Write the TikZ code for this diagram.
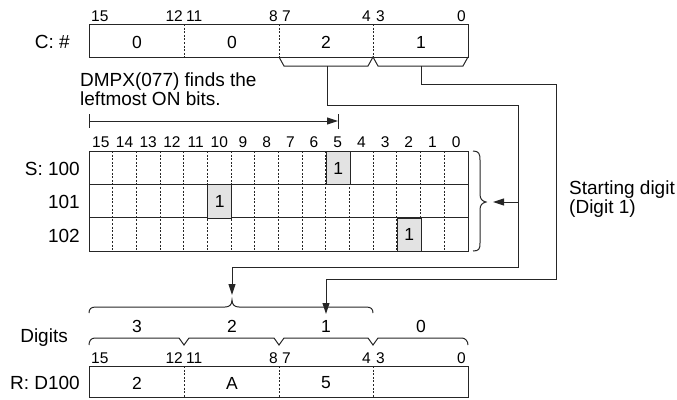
\documentclass[tikz,border=0pt]{standalone}
\usepackage{fontspec}
\setmainfont{Liberation Sans}
\usetikzlibrary{arrows.meta,calc}
\begin{document}
\begin{tikzpicture}[x=1pt,y=-1pt,
  ln/.style={line width=1pt, black!85},
  divline/.style={line width=1pt, black!85, dash pattern=on 2pt off 1.6pt},
  lbl/.style={font=\fontsize{19}{21}\selectfont, inner sep=0pt},
  val/.style={font=\fontsize{17.5}{19}\selectfont, inner sep=0pt},
  bitno/.style={font=\fontsize{15.5}{17}\selectfont, inner sep=0pt},
  arr/.style={ln, -{Triangle[length=11pt,width=7pt]}},
  reg/.style={draw, line width=1pt, black!85, anchor=north west, inner sep=0pt, minimum width=379pt},
  onbit/.style={draw, line width=1pt, black!85, fill=black!11, anchor=north west, inner sep=0pt, minimum width=23.69pt, minimum height=33.3pt, font=\fontsize{17.5}{19}\selectfont, text=black}
]
\useasboundingbox (0,0) rectangle (677,399);

% ---------- C register ----------
\node[reg, minimum height=33pt] (Cbox) at (89,24) {};
\foreach \x in {184,279,373} \draw[divline] (\x,24) -- (\x,57);
\node[lbl, anchor=east] (Clbl) at (70,42) {C: \#};
\node[val] (C3) at (137,42) {0};
\node[val] (C2) at (232,42) {0};
\node[val] (C1) at (326,42) {2};
\node[val] (C0) at (421,42) {1};
\node[bitno, anchor=west] (cb15) at (91,16) {15};
\node[bitno, anchor=east] (cb12) at (183,16) {12};
\node[bitno, anchor=west] (cb11) at (186,16) {11};
\node[bitno, anchor=east] (cb8) at (278,16) {8};
\node[bitno, anchor=west] (cb7) at (282,16) {7};
\node[bitno, anchor=east] (cb4) at (371,16) {4};
\node[bitno, anchor=west] (cb3) at (376,16) {3};
\node[bitno, anchor=east] (cb0) at (466,16) {0};
% brackets under digits 1 and 0
\draw[ln] (279,57) -- (284,66) -- (368,66) -- (373,57) -- (378,66) -- (463,66) -- (468,57);
\coordinate (d1out) at (327,66);
\coordinate (d0out) at (421,66);

% ---------- explanation ----------
\node[lbl, anchor=base west] (t1) at (80,86) {DMPX(077) finds the};
\node[lbl, anchor=base west] (t2) at (80,105) {leftmost ON bits.};
\coordinate (scanL) at (89,121);
\coordinate (scanR) at (338,121);
\draw[ln] (89,114) -- (89,128);
\draw[ln] (338,114) -- (338,129);
\draw[arr] (scanL) -- (scanR);

% ---------- S table ----------
\node[reg, minimum height=100pt] (Sbox) at (89,151) {};
\foreach \k in {1,...,15} \draw[divline] ({89+\k*23.6875},151) -- ({89+\k*23.6875},251);
\draw[ln] (89,184.3) -- (468,184.3);
\draw[ln] (89,217.7) -- (468,217.7);
\foreach \k in {0,...,15} {
  \pgfmathtruncatemacro{\b}{15-\k}
  \node[bitno] (sb\b) at ({89+(\k+0.5)*23.6875},142) {\b};
}
\node[onbit] (on100) at ({89+10*23.6875},151) {1};
\node[onbit] (on101) at ({89+5*23.6875},184.3) {1};
\node[onbit] (on102) at ({89+13*23.6875},217.7) {1};
\node[lbl, anchor=east] (S100) at (80,169) {S: 100};
\node[lbl, anchor=east] (S101) at (80,202) {101};
\node[lbl, anchor=east] (S102) at (80,236) {102};
% right brace
\draw[ln] (473,151) .. controls (479,151) and (480,154) .. (480,160) -- (480,194)
  .. controls (480,199) and (482,201) .. (486,202)
  .. controls (482,203) and (480,205) .. (480,210) -- (480,243)
  .. controls (480,249) and (479,251) .. (473,251);
\coordinate (Sbrace) at (493,202);

% ---------- connectors ----------
\coordinate (p1a) at (327,105);
\coordinate (p1b) at (518,105);
\coordinate (p1c) at (518,267);
\coordinate (p1d) at (232,267);
\coordinate (p1br) at (518,202);
\coordinate (dig2top) at (232,295);
\draw[ln] (d1out) -- (p1a) -- (p1b) -- (p1c) -- (p1d);
\draw[arr] (p1d) -- (dig2top);
\draw[arr] (p1br) -- (Sbrace);

\coordinate (p2a) at (421,84);
\coordinate (p2b) at (556,84);
\coordinate (p2c) at (556,279);
\coordinate (p2d) at (326,279);
\coordinate (dig1top) at (326,314);
\draw[ln] (d0out) -- (p2a) -- (p2b) -- (p2c) -- (p2d);
\draw[arr] (p2d) -- (dig1top);

\node[lbl, anchor=base west] (sd1) at (569,194) {Starting digit};
\node[lbl, anchor=base west] (sd2) at (569,213) {(Digit 1)};

% ---------- digit braces ----------
\draw[ln] (89,313) .. controls (89,309) and (91,307) .. (96,307) -- (225,307)
  .. controls (229,307) and (232,305) .. (232,300)
  .. controls (232,305) and (235,307) .. (239,307) -- (366,307)
  .. controls (371,307) and (373,309) .. (373,313);
\node[val] (g3) at (137,326) {3};
\node[val] (g2) at (232,326) {2};
\node[val] (g1) at (326,326) {1};
\node[val] (g0) at (421,326) {0};
\node[lbl, anchor=base east] (Dg) at (68,342) {Digits};
\draw[ln] (89,345) .. controls (89,341) and (91,338) .. (95,338) -- (179,338) -- (184,345)
  -- (189,338) -- (274,338) -- (279,345) -- (284,338) -- (368,338) -- (373,345)
  -- (378,338) -- (462,338) .. controls (465,338) and (468,341) .. (468,345);

% ---------- R register ----------
\node[bitno, anchor=west] (rb15) at (91,358) {15};
\node[bitno, anchor=east] (rb12) at (183,358) {12};
\node[bitno, anchor=west] (rb11) at (186,358) {11};
\node[bitno, anchor=east] (rb8) at (278,358) {8};
\node[bitno, anchor=west] (rb7) at (282,358) {7};
\node[bitno, anchor=east] (rb4) at (371,358) {4};
\node[bitno, anchor=west] (rb3) at (376,358) {3};
\node[bitno, anchor=east] (rb0) at (466,358) {0};
\node[reg, minimum height=31pt] (Rbox) at (89,366) {};
\foreach \x in {184,279,373} \draw[divline] (\x,366) -- (\x,397);
\node[lbl, anchor=east] (Rlbl) at (80,383) {R: D100};
\node[val] (R3) at (137,383) {2};
\node[val] (R2) at (232,383) {A};
\node[val] (R1) at (326,383) {5};
\end{tikzpicture}
\end{document}
